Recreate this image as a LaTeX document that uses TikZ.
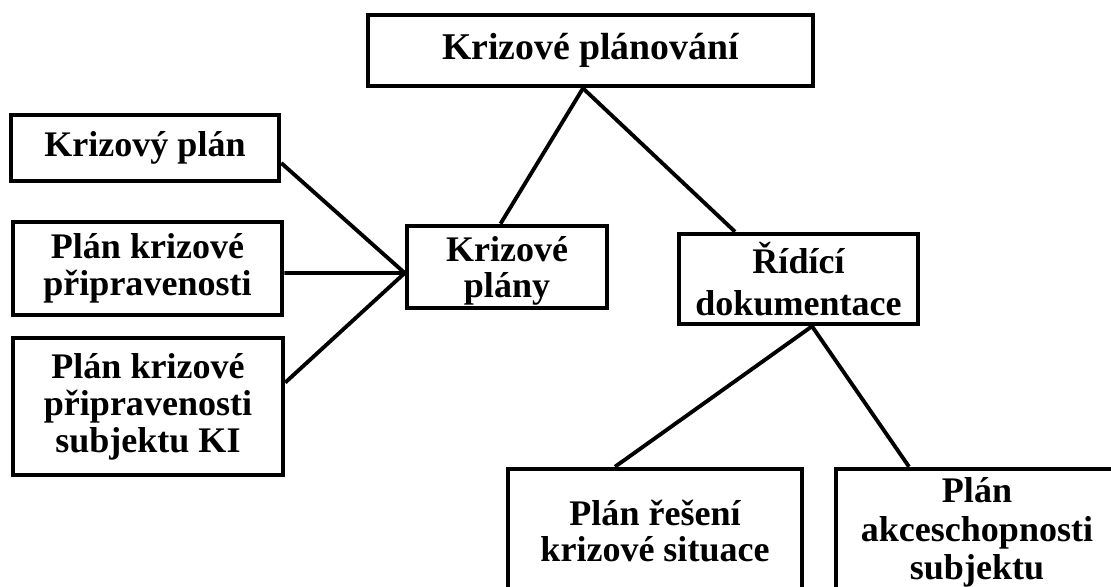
\documentclass[tikz,border=0pt]{standalone}
\usepackage{fontspec}
\setmainfont{Liberation Serif}
\usetikzlibrary{calc}
\tikzstyle{box}=[draw, line width=2.6pt, align=center, inner sep=2pt,
                font=\bfseries\fontsize{20.5}{21}\selectfont]
\tikzstyle{link}=[line width=2.2pt]

\begin{document}
\begin{tikzpicture}[x=0.02cm, y=-0.02cm]
        \useasboundingbox (0,0) rectangle (1111,586);
        \clip (0,0) rectangle (1111,586);
        % top
        \node [box, minimum width=8.9cm, minimum height=1.42cm,
               font=\bfseries\fontsize{21.5}{23}\selectfont] (planovani) at (590.5,50.5) {Krizové plánování};
        % left column
        \node [box, minimum width=5.36cm, minimum height=1.32cm] (kplan) at (145,148) {Krizový plán};
        \node [box, minimum width=5.38cm, minimum height=1.86cm] (pkp) at (147.5,268.5) {Plán krizové\\připravenosti};
        \node [box, minimum width=5.4cm, minimum height=2.74cm] (pkpki) at (148,406.5) {Plán krizové\\připravenosti\\subjektu KI};
        % middle
        \node [box, minimum width=4cm, minimum height=1.64cm, text depth=-3.5pt,
               font=\bfseries\fontsize{20.5}{20}\selectfont] (kplany) at (507,267) {Krizové\\plány};
        \node [box, minimum width=4.78cm, minimum height=1.8cm,
               font=\bfseries\fontsize{20.5}{24}\selectfont] (ridici) at (798.5,279) {Řídící\\dokumentace};
        % bottom
        \node [box, minimum width=5.88cm, minimum height=2.48cm,
               font=\bfseries\fontsize{20.5}{20}\selectfont] (reseni) at (655,531) {Plán řešení\\krizové situace};
        \node [box, minimum width=5.64cm, minimum height=2.54cm,
               font=\bfseries\fontsize{20.5}{22}\selectfont] (akce) at (977,532.5) {Plán\\akceschopnosti\\subjektu};
        % meeting points
        \coordinate (apex) at ([xshift=-0.15cm]planovani.south);
        \coordinate (hub) at ([yshift=-0.12cm]kplany.west);
        \coordinate (fork) at ([xshift=0.27cm]ridici.south);
        \draw[link] (apex) -- ([xshift=-0.13cm]kplany.north);
        \draw[link] (apex) -- ([xshift=-1.27cm]ridici.north);
        \draw[link] ([yshift=-0.3cm]kplan.east) -- (hub);
        \draw[link] ([yshift=-0.09cm]pkp.east) -- (hub);
        \draw[link] ([yshift=0.48cm]pkpki.east) -- (hub);
        \draw[link] (fork) -- ([xshift=-0.8cm]reseni.north);
        \draw[link] (fork) -- ([xshift=-1.36cm]akce.north);
\end{tikzpicture}
\end{document}
